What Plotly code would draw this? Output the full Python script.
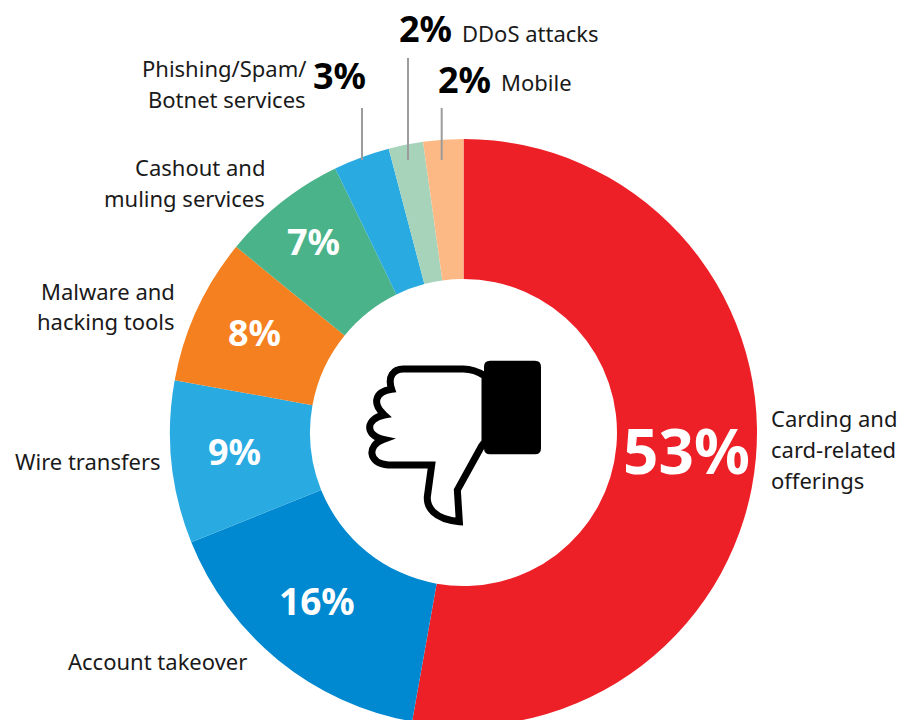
import plotly.graph_objects as go

categories = ["Carding and card-related offerings", "Account takeover", "Wire transfers",
              "Malware and hacking tools", "Cashout and muling services",
              "Phishing/Spam/Botnet services", "DDoS attacks", "Mobile"]
values = [52.8, 16.1, 8.95, 8.05, 6.9, 3.1, 1.9, 2.2]
pct_labels = ["53%", "16%", "9%", "8%", "7%", "3%", "2%", "2%"]
colors = ["#ee2027", "#0089d0", "#29abe2", "#f58020", "#4bb38a", "#29abe2", "#a8d3bb", "#fdb985"]

W, H = 911, 760
FONT = "Noto Sans"
TEXT = "#1a1a1a"

def px(x):
    return x / W

def py(y):
    return 1 - y / H

fig = go.Figure(go.Pie(
    labels=categories, values=values, sort=False, direction="clockwise", rotation=0,
    hole=0.523, marker=dict(colors=colors, line=dict(width=0)),
    textinfo="none", hoverinfo="label+percent", showlegend=False,
    domain=dict(x=[px(170), px(757)], y=[py(726), py(139)]),
))

annotations = []

def note(text, x, y, anchor="center", size=22, color=TEXT, bold=False):
    annotations.append(dict(
        text=text, x=px(x), y=py(y), xref="paper", yref="paper",
        xanchor=anchor, yanchor="middle", showarrow=False,
        font=dict(family=FONT, size=size, color=color, weight=700 if bold else 400),
    ))

# category labels, line by line
for line, x, y, a in [
    ("Carding and", 769, 418, "left"), ("card-related", 769, 449, "left"), ("offerings", 769, 480, "left"),
    ("Account takeover", 66, 661, "left"), ("Wire transfers", 163, 461, "right"),
    ("Malware and", 177, 291, "right"), ("hacking tools", 177, 321, "right"),
    ("Cashout and", 267, 167, "right"), ("muling services", 267, 198, "right"),
    ("Phishing/Spam/", 308, 68, "right"), ("Botnet services", 308, 99, "right"),
    ("DDoS attacks", 460, 33, "left"), ("Mobile", 499, 82, "left"),
]:
    note(line, x, y, a)

# percentage labels
pct_pos = [(686, 450, 62, "white"), (317, 600, 37, "white"), (234, 452, 36, "white"),
           (254, 332, 36, "white"), (313, 241, 36, "white"),
           (339, 76, 36, "black"), (425, 29, 36, "black"), (464, 79, 36, "black")]
for t, (x, y, s, c) in zip(pct_labels, pct_pos):
    note(t, x, y, "center", s, c, True)

def z(x, y):
    return f"{px(350 + x / 3):.5f},{py(340 + y / 3):.5f}"

thumb = (
    f"M{z(405,108)} C{z(385,95)} {z(365,87)} {z(340,87)} L{z(160,87)} "
    f"C{z(130,87)} {z(112,110)} {z(125,148)} C{z(75,155)} {z(65,190)} {z(103,225)} "
    f"C{z(48,235)} {z(42,285)} {z(100,298)} C{z(52,315)} {z(52,370)} {z(115,375)} "
    f"L{z(245,375)} L{z(232,470)} C{z(230,500)} {z(250,538)} {z(328,545)} "
    f"L{z(322,450)} L{z(395,318)} L{z(405,305)} Z"
)
cuff = (
    f"M{z(420,62)} L{z(555,62)} Q{z(573,62)} {z(573,80)} L{z(573,325)} Q{z(573,343)} {z(555,343)} "
    f"L{z(420,343)} Q{z(402,343)} {z(402,325)} L{z(402,80)} Q{z(402,62)} {z(420,62)} Z"
)
shapes = [
    dict(type="path", xref="paper", yref="paper", path=thumb, fillcolor="white",
         line=dict(color="black", width=7)),
    dict(type="path", xref="paper", yref="paper", path=cuff, fillcolor="black",
         line=dict(color="black", width=0)),
]
for x, y0 in [(362, 108), (408, 58), (441.7, 108)]:
    shapes.append(dict(type="line", xref="paper", yref="paper", x0=px(x), x1=px(x),
                       y0=py(y0), y1=py(160), line=dict(color="#9c9c9c", width=2)))

fig.update_layout(width=W, height=H, margin=dict(l=0, r=0, t=0, b=0),
                  paper_bgcolor="white", annotations=annotations, shapes=shapes,
                  font=dict(family=FONT))
fig.write_html("out.html", config=dict(displayModeBar=False),
               post_script="document.body.style.margin='0';document.body.style.overflow='hidden';")
